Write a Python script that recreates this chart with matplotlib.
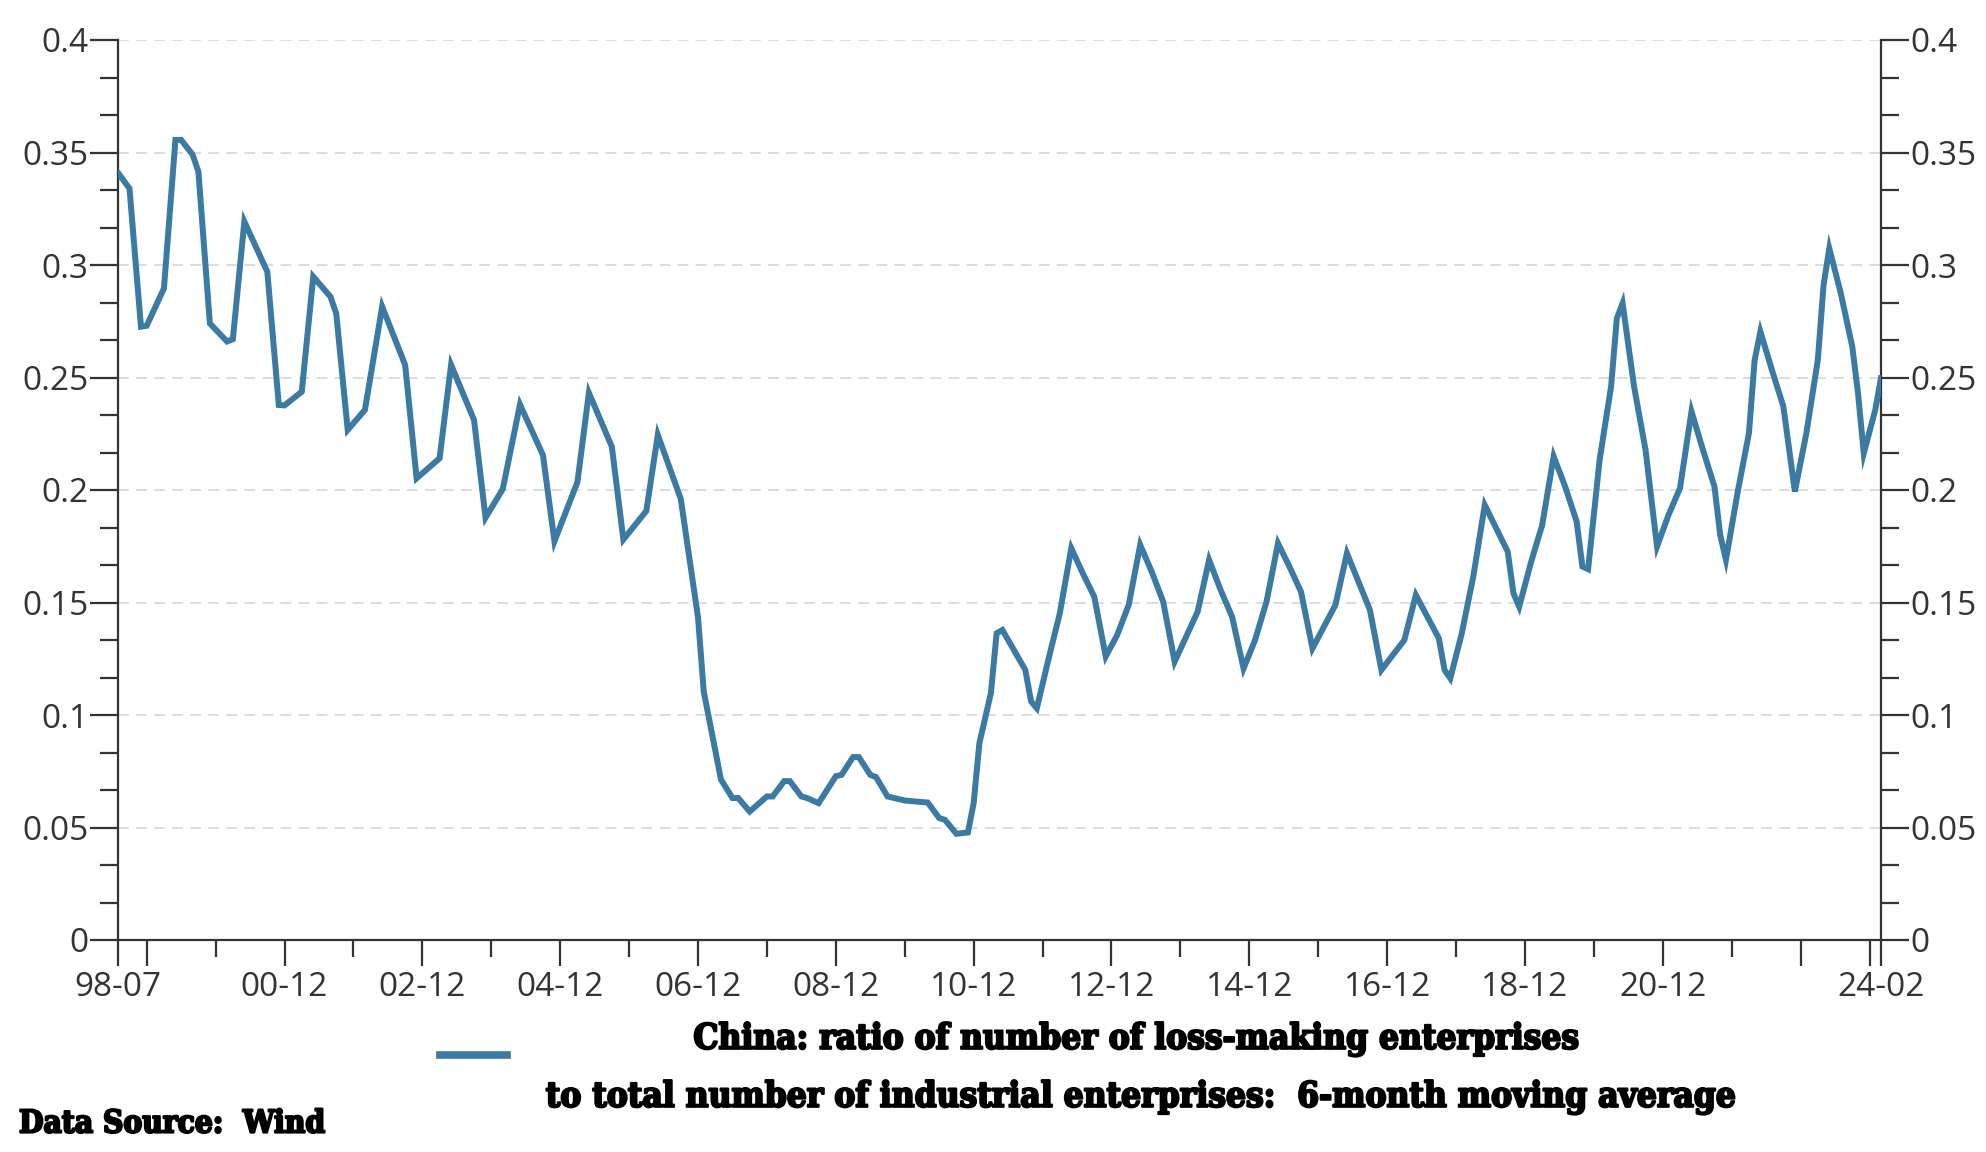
import matplotlib
matplotlib.use("Agg")
import matplotlib.pyplot as plt
import matplotlib.patheffects as pe
from matplotlib.lines import Line2D
from matplotlib.ticker import FixedLocator
import numpy as np

# ---------------- data ----------------
dates = [
    "1998-07", "1998-09", "1998-11", "1998-12", "1999-03", "1999-05", "1999-06", "1999-08",
    "1999-09", "1999-11", "2000-02", "2000-03", "2000-05", "2000-09", "2000-11", "2000-12",
    "2001-03", "2001-05", "2001-08", "2001-09", "2001-11", "2002-02", "2002-05", "2002-09",
    "2002-11", "2003-03", "2003-05", "2003-09", "2003-11", "2004-02", "2004-05", "2004-09",
    "2004-11", "2005-03", "2005-05", "2005-09", "2005-11", "2006-03", "2006-05", "2006-09",
    "2006-12", "2007-01", "2007-04", "2007-06", "2007-07", "2007-09", "2007-12", "2008-01",
    "2008-03", "2008-04", "2008-06", "2008-07", "2008-09", "2008-12", "2009-01", "2009-03",
    "2009-04", "2009-06", "2009-07", "2009-09", "2009-12", "2010-04", "2010-06", "2010-07",
    "2010-09", "2010-11", "2010-12", "2011-01", "2011-03", "2011-04", "2011-05", "2011-07",
    "2011-09", "2011-10", "2011-11", "2012-01", "2012-03", "2012-05", "2012-07", "2012-09",
    "2012-11", "2013-01", "2013-03", "2013-05", "2013-07", "2013-09", "2013-11", "2014-01",
    "2014-03", "2014-05", "2014-07", "2014-09", "2014-11", "2015-01", "2015-03", "2015-05",
    "2015-07", "2015-09", "2015-11", "2016-01", "2016-03", "2016-05", "2016-07", "2016-09",
    "2016-11", "2017-01", "2017-03", "2017-05", "2017-07", "2017-09", "2017-10", "2017-11",
    "2018-01", "2018-03", "2018-05", "2018-07", "2018-09", "2018-10", "2018-11", "2019-01",
    "2019-03", "2019-05", "2019-07", "2019-09", "2019-10", "2019-11", "2020-01", "2020-03",
    "2020-04", "2020-05", "2020-07", "2020-09", "2020-11", "2021-01", "2021-03", "2021-05",
    "2021-07", "2021-09", "2021-10", "2021-11", "2022-01", "2022-03", "2022-04", "2022-05",
    "2022-07", "2022-09", "2022-11", "2023-01", "2023-03", "2023-04", "2023-05", "2023-07",
    "2023-09", "2023-10", "2023-11", "2024-01", "2024-02",
]
ratio = [
    0.341, 0.334, 0.2726, 0.273, 0.2896, 0.3556, 0.3556, 0.349,
    0.3415, 0.274, 0.266, 0.267, 0.3193, 0.297, 0.2378, 0.2376,
    0.2437, 0.2948, 0.2859, 0.2785, 0.2267, 0.2356, 0.2815, 0.2556,
    0.2052, 0.2141, 0.2556, 0.2311, 0.1877, 0.2004, 0.238, 0.2155,
    0.1772, 0.2035, 0.2432, 0.2192, 0.178, 0.1907, 0.2245, 0.196,
    0.1434, 0.1104, 0.0713, 0.0631, 0.0631, 0.0571, 0.0638, 0.0638,
    0.0706, 0.0706, 0.0638, 0.0631, 0.0608, 0.0728, 0.0734, 0.0813,
    0.0813, 0.0734, 0.0724, 0.0638, 0.062, 0.0611, 0.0542, 0.0534,
    0.0472, 0.0478, 0.0608, 0.0875, 0.1097, 0.1363, 0.1378, 0.1289,
    0.12, 0.106, 0.103, 0.1245, 0.1452, 0.1741, 0.163, 0.1526,
    0.126, 0.1356, 0.1489, 0.1756, 0.1637, 0.1504, 0.1237, 0.1348,
    0.1459, 0.1689, 0.1556, 0.1437, 0.1207, 0.1333, 0.1504, 0.1763,
    0.1659, 0.1548, 0.1296, 0.1393, 0.1489, 0.1719, 0.1593, 0.1467,
    0.12, 0.1267, 0.1333, 0.1533, 0.1437, 0.1341, 0.12, 0.1163,
    0.1363, 0.1615, 0.1933, 0.183, 0.1726, 0.1541, 0.1481, 0.1674,
    0.1844, 0.2149, 0.2015, 0.186, 0.166, 0.1648, 0.2134, 0.246,
    0.2763, 0.283, 0.246, 0.2178, 0.1749, 0.1889, 0.2008, 0.2349,
    0.2178, 0.2015, 0.18, 0.169, 0.1985, 0.2252, 0.2578, 0.2704,
    0.2534, 0.2371, 0.1993, 0.2252, 0.2578, 0.2911, 0.3074, 0.2874,
    0.2637, 0.243, 0.2163, 0.2356, 0.2497,
]

x_start = "1998-07"
x_end = "2024-02"
major_tick_dates = ["1998-07", "1998-12", "2000-12", "2002-12", "2004-12", "2006-12",
                    "2008-12", "2010-12", "2012-12", "2014-12", "2016-12", "2018-12",
                    "2020-12", "2022-12", "2023-12", "2024-02"]
major_tick_labels = ["98-07", "", "00-12", "02-12", "04-12", "06-12",
                     "08-12", "10-12", "12-12", "14-12", "16-12", "18-12",
                     "20-12", "", "", "24-02"]
minor_tick_dates = ["1999-12", "2001-12", "2003-12", "2005-12", "2007-12", "2009-12",
                    "2011-12", "2013-12", "2015-12", "2017-12", "2019-12", "2021-12"]
ytick_values = [0, 0.05, 0.1, 0.15, 0.2, 0.25, 0.3, 0.35, 0.4]
ytick_labels = ["0", "0.05", "0.1", "0.15", "0.2", "0.25", "0.3", "0.35", "0.4"]

legend_line1 = "China: ratio of number of loss-making enterprises"
legend_line2 = "to total number of industrial enterprises:  6-month moving average"
source_text = "Data Source:  Wind"

# ---------------- helpers ----------------
def midx(s):
    y, m = map(int, s.split("-"))
    return (y - 1998) * 12 + (m - 7)

x = [midx(d) for d in dates]

LINE_C = "#3b7aa3"
AX_C = "#333333"
W, H = 1986, 1152

plt.rcParams["font.family"] = ["Open Sans", "DejaVu Sans"]
fig = plt.figure(figsize=(W / 100, H / 100), dpi=100)
ax = fig.add_axes([118 / W, 1 - 940 / H, (1881 - 118) / W, 900 / H])

ax.plot(x, ratio, color=LINE_C, lw=4.3, solid_joinstyle="miter", zorder=3)
ax.set_xlim(midx(x_start), midx(x_end))
ax.set_ylim(0, 0.4)

# y axis ticks on both sides
ax.yaxis.set_major_locator(FixedLocator(ytick_values))
ax.set_yticklabels(ytick_labels)
minor_y = [v for v in np.linspace(0, 0.4, 25) if min(abs(v - t) for t in ytick_values) > 1e-6]
ax.yaxis.set_minor_locator(FixedLocator(minor_y))

ax.set_xticks([midx(d) for d in major_tick_dates])
ax.set_xticklabels(major_tick_labels)
ax.set_xticks([midx(d) for d in minor_tick_dates], minor=True)

ax.tick_params(axis="y", which="major", direction="out", length=20, width=1.6,
               color=AX_C, labelcolor=AX_C, labelsize=24, pad=1,
               left=True, right=True, labelleft=True, labelright=True)
ax.tick_params(axis="y", which="minor", direction="out", length=13, width=1.6,
               color=AX_C, left=True, right=True)
ax.tick_params(axis="x", which="major", direction="out", length=19, width=1.6,
               color=AX_C, labelcolor=AX_C, labelsize=24, pad=3)
ax.tick_params(axis="x", which="minor", direction="out", length=12, width=1.6,
               color=AX_C)

for side in ["left", "right", "bottom"]:
    ax.spines[side].set_color(AX_C)
    ax.spines[side].set_linewidth(1.6)
ax.spines["top"].set_visible(False)

ax.grid(axis="y", which="major", color="#dadada", lw=1.3, linestyle=(0, (6, 4)))
ax.set_axisbelow(True)

# legend swatch
fig.add_artist(Line2D([440 / W, 507 / W], [1 - 1055 / H, 1 - 1055 / H],
                      transform=fig.transFigure, color=LINE_C, lw=5.5))

def fit_text(xf, yf, s, target_w, **kw):
    t = fig.text(xf, yf, s, **kw)
    fig.canvas.draw()
    r = fig.canvas.get_renderer()
    w = t.get_window_extent(r).width
    t.set_fontsize(t.get_fontsize() * target_w / w)
    return t

tkw = dict(family=["DejaVu Serif"], fontweight="bold", fontstretch="condensed",
           color="#000000", fontsize=24,
           path_effects=[pe.withStroke(linewidth=1.6, foreground="#000000")])
fit_text(1137 / W, 1 - 1039 / H, legend_line1, 885, ha="center", va="center", **tkw)
fit_text(1142 / W, 1 - 1097 / H, legend_line2, 1189, ha="center", va="center", **tkw)
fit_text(19 / W, 1 - 1124 / H, source_text, 306, ha="left", va="center", **tkw)

fig.savefig("out.png", dpi=100, facecolor="white")
